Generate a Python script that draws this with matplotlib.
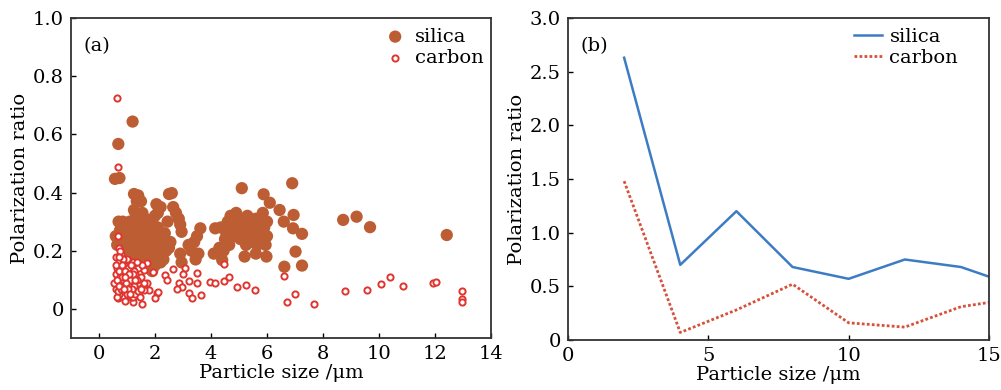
import matplotlib
matplotlib.use("Agg")
import matplotlib.pyplot as plt

plt.rcParams["font.family"] = ["DejaVu Serif"]
plt.rcParams["mathtext.fontset"] = "dejavuserif"

# (a) 散点: silica
silica_x = [0.69, 1.2, 0.57, 0.73, 1.25, 1.4, 1.5, 1.35, 1.3, 1.55,
            2.5, 2.6, 2.05, 2.2, 2.1, 2.65, 2.75, 2.85, 2.9, 2.95,
            5.1, 5.88, 6.9, 6.1, 6.45, 6.6, 6.95, 6.93, 7.25, 7.02, 7.25, 6.62,
            8.72, 9.2, 9.68, 12.42,
            0.7, 0.85, 0.6, 0.75, 0.65, 0.8, 0.9, 0.95,
            1.1, 1.2, 1.3, 1.1, 1.2, 1.4, 1.5, 1.6, 1.7, 1.8, 1.9, 1.75, 1.65, 1.45,
            1.3, 1.0, 1.85, 2.0, 1.9, 2.05, 2.15, 2.3, 2.4, 2.25, 2.1, 2.35, 2.45,
            2.2, 1.55, 1.0, 1.15,
            1.05, 1.25, 1.35, 1.45, 1.6, 1.7, 1.8, 1.95, 2.0, 1.15, 1.4, 1.55, 1.25,
            1.65, 1.9, 2.3, 2.5, 1.05, 1.35, 0.95, 1.5, 1.75, 2.0, 2.2, 2.55,
            2.9, 2.95, 3.3, 3.4, 3.5, 3.62, 3.45, 3.55, 3.2,
            4.15, 4.1, 4.4, 4.3, 4.5, 4.35, 4.6, 4.7, 4.8, 4.9, 5.0, 5.1, 5.2, 5.3,
            5.4, 5.5, 5.6, 5.7, 5.8, 5.9, 6.0, 4.55, 4.65, 4.85, 5.05, 5.25, 5.45,
            5.65, 5.95, 5.2, 5.6, 5.98, 4.75, 5.35, 5.85, 4.45, 5.0, 5.5, 6.0, 5.75]
silica_y = [0.567, 0.644, 0.447, 0.45, 0.395, 0.39, 0.37, 0.37, 0.33, 0.33,
            0.395, 0.398, 0.36, 0.35, 0.33, 0.35, 0.33, 0.31, 0.29, 0.265,
            0.415, 0.394, 0.432, 0.365, 0.34, 0.30, 0.323, 0.277, 0.258, 0.197, 0.149, 0.145,
            0.306, 0.317, 0.281, 0.254,
            0.30, 0.30, 0.25, 0.27, 0.22, 0.24, 0.28, 0.26,
            0.30, 0.27, 0.25, 0.22, 0.20, 0.22, 0.25, 0.28, 0.24, 0.22, 0.26, 0.30, 0.19, 0.18,
            0.16, 0.18, 0.18, 0.15, 0.13, 0.20, 0.24, 0.22, 0.20, 0.18, 0.28, 0.26, 0.30,
            0.16, 0.30, 0.25, 0.14,
            0.21, 0.23, 0.29, 0.27, 0.21, 0.27, 0.26, 0.22, 0.32, 0.19, 0.31, 0.20, 0.34,
            0.31, 0.30, 0.17, 0.21, 0.27, 0.20, 0.23, 0.16, 0.20, 0.25, 0.19, 0.23,
            0.19, 0.16, 0.20, 0.23, 0.25, 0.277, 0.17, 0.19, 0.22,
            0.277, 0.19, 0.168, 0.21, 0.24, 0.28, 0.30, 0.32, 0.29, 0.33, 0.31, 0.28, 0.30, 0.32,
            0.27, 0.29, 0.31, 0.26, 0.24, 0.28, 0.30, 0.26, 0.22, 0.25, 0.24, 0.22, 0.23,
            0.22, 0.22, 0.18, 0.19, 0.18, 0.27, 0.26, 0.33, 0.20, 0.27, 0.25, 0.25, 0.29]

# (a) 散点: carbon
carbon_x = [0.66, 0.69, 0.69, 0.73, 4.45, 2.36, 2.42, 2.66, 3.08, 3.0, 3.5,
            2.84, 2.96, 2.78, 3.2, 3.5, 3.2, 3.32, 3.65, 3.95, 4.15, 4.45, 4.63,
            4.93, 5.26, 5.58, 6.6, 6.7, 7.0, 7.67, 8.8, 9.58, 10.06, 10.39, 10.87,
            11.93, 12.03, 12.96, 12.96, 12.96,
            1.7, 1.92, 1.6, 1.7, 1.8, 2.06, 2.12, 2.0, 1.53, 1.59,
            0.69, 0.93, 1.23, 1.13, 1.43,
            0.6, 0.7, 0.8, 0.9, 1.0, 1.1, 1.2, 1.3, 1.4, 0.6, 0.7, 0.8, 0.9, 1.0,
            1.1, 1.2, 1.3, 1.4, 1.5, 0.6, 0.7, 0.8, 0.9, 1.0, 1.1, 1.2, 1.3, 1.4,
            1.5, 0.65, 0.75, 0.85, 0.95, 1.05, 1.15, 1.25, 1.35, 0.55, 0.65, 1.45,
            1.6, 1.55, 0.75, 0.85, 1.05, 1.25, 1.35,
            0.62, 0.72, 0.82, 0.92, 1.02, 1.12, 1.22, 0.68, 0.78, 0.88, 0.98, 1.08,
            1.18, 1.28, 0.63, 0.73, 0.83, 0.93, 1.03, 1.13, 0.7, 0.9, 1.1]
carbon_y = [0.726, 0.487, 0.25, 0.208, 0.155, 0.117, 0.10, 0.136, 0.14, 0.12, 0.123,
            0.088, 0.077, 0.068, 0.096, 0.088, 0.054, 0.036, 0.047, 0.092, 0.088, 0.097, 0.108,
            0.074, 0.081, 0.065, 0.113, 0.025, 0.05, 0.017, 0.063, 0.065, 0.086, 0.111, 0.079,
            0.09, 0.092, 0.062, 0.033, 0.025,
            0.157, 0.128, 0.134, 0.088, 0.065, 0.054, 0.058, 0.037, 0.017, 0.065,
            0.037, 0.027, 0.025, 0.04, 0.07,
            0.18, 0.16, 0.19, 0.15, 0.17, 0.13, 0.16, 0.12, 0.14, 0.12, 0.10, 0.13, 0.09, 0.11,
            0.08, 0.10, 0.07, 0.09, 0.11, 0.07, 0.05, 0.08, 0.06, 0.05, 0.06, 0.04, 0.05, 0.06,
            0.07, 0.14, 0.11, 0.10, 0.12, 0.14, 0.11, 0.13, 0.10, 0.09, 0.04, 0.04,
            0.09, 0.15, 0.20, 0.17, 0.09, 0.08, 0.16,
            0.15, 0.13, 0.11, 0.13, 0.08, 0.10, 0.12, 0.06, 0.07, 0.08, 0.09, 0.12,
            0.07, 0.10, 0.10, 0.08, 0.15, 0.11, 0.07, 0.15, 0.18, 0.07, 0.05]

# (b) 折线
size_b = [2, 4, 6, 8, 10, 12, 14, 15]
silica_b = [2.63, 0.70, 1.20, 0.68, 0.57, 0.75, 0.68, 0.59]
carbon_b = [1.48, 0.07, 0.28, 0.52, 0.16, 0.12, 0.31, 0.35]

brown = "#bd5d33"
red = "#e0352f"
blue = "#3d7cc4"
red_line = "#d6513a"

fig = plt.figure(figsize=(10.01, 3.9), dpi=100)
ax1 = fig.add_axes([71 / 1001, 52 / 390, 420 / 1001, 320 / 390])
ax2 = fig.add_axes([568 / 1001, 50 / 390, 421 / 1001, 322 / 390])

ax1.scatter(silica_x, silica_y, s=78, color=brown, edgecolors="none", label="silica", zorder=2)
ax1.scatter(carbon_x, carbon_y, s=20, facecolors="white", edgecolors=red, linewidths=1.4,
            label="carbon", zorder=3)
ax1.set_xlim(-1, 14)
ax1.set_ylim(-0.1, 1.0)
ax1.set_xticks([0, 2, 4, 6, 8, 10, 12, 14])
ax1.set_yticks([0, 0.2, 0.4, 0.6, 0.8, 1.0])
ax1.set_yticklabels(["0", "0.2", "0.4", "0.6", "0.8", "1.0"])
ax1.set_xlabel("Particle size /μm", fontsize=14, labelpad=1)
ax1.set_ylabel("Polarization ratio", fontsize=14, labelpad=3)
ax1.text(0.03, 0.94, "(a)", transform=ax1.transAxes, fontsize=14, va="top")
ax1.legend(loc="upper right", frameon=False, fontsize=14, handletextpad=0.0,
           borderaxespad=0.1, labelspacing=0.15, bbox_to_anchor=(1.005, 1.0))

ax2.plot(size_b, silica_b, color=blue, lw=1.8, label="silica")
ax2.plot(size_b, carbon_b, color=red_line, lw=2.0, ls=(0, (1, 0.8)), label="carbon")
ax2.set_xlim(0, 15)
ax2.set_ylim(0, 3.0)
ax2.set_xticks([0, 5, 10, 15])
ax2.set_yticks([0, 0.5, 1.0, 1.5, 2.0, 2.5, 3.0])
ax2.set_yticklabels(["0", "0.5", "1.0", "1.5", "2.0", "2.5", "3.0"])
ax2.set_xlabel("Particle size /μm", fontsize=14, labelpad=1)
ax2.set_ylabel("Polarization ratio", fontsize=14, labelpad=3)
ax2.text(0.03, 0.94, "(b)", transform=ax2.transAxes, fontsize=14, va="top")
ax2.legend(loc="upper right", frameon=False, fontsize=14, handlelength=1.45,
           handletextpad=0.4, borderaxespad=0.1, labelspacing=0.15,
           bbox_to_anchor=(0.95, 1.0))

for ax in (ax1, ax2):
    ax.tick_params(direction="in", length=3.5, width=1, labelsize=14, pad=5)
    for sp in ax.spines.values():
        sp.set_linewidth(1.3)
        sp.set_color("#333333")

fig.savefig("out.png", dpi=100)
